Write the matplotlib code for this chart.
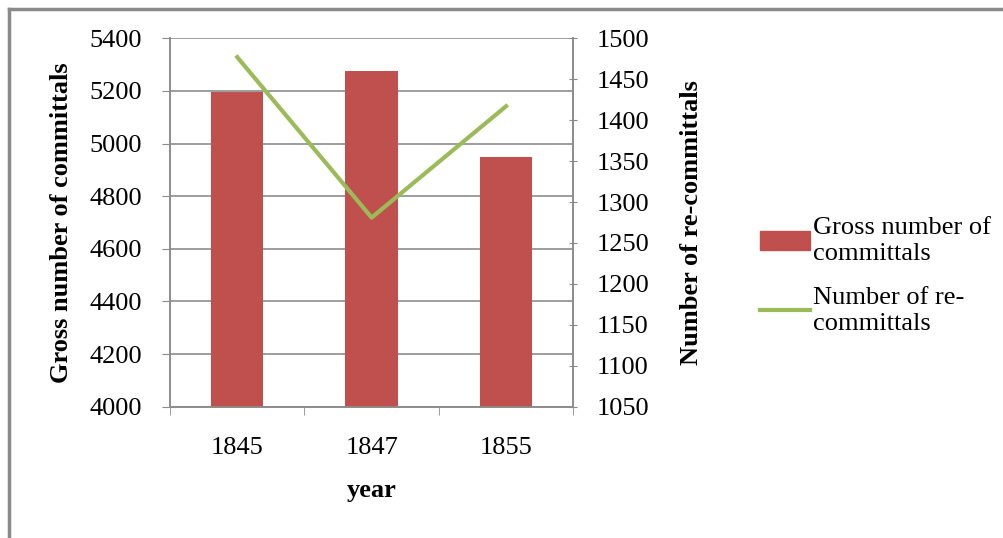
import numpy as np
import matplotlib.pyplot as plt
from matplotlib.lines import Line2D
from matplotlib.patches import Patch

years = ["1845", "1847", "1855"]
gross_committals = [5195, 5275, 4950]
re_committals = [1477, 1281, 1417]

bar_color = "#C0504D"
line_color = "#9BBB59"
grid_color = "#8C8C8C"

plt.rcParams["font.family"] = ["Liberation Serif", "DejaVu Serif"]

fig = plt.figure(figsize=(10.04, 5.38), dpi=100)
W, H = 1004, 538
ax = fig.add_axes([170 / W, 1 - 406.7 / H, (573.3 - 170) / W, (406.7 - 38.3) / H])
ax2 = ax.twinx()

x = np.arange(len(years))
ax.bar(x, gross_committals, width=0.39, color=bar_color, zorder=3)
ax.set_ylim(4000, 5400)
ax.set_yticks(np.arange(4000, 5401, 200))
ax.set_xlim(-0.5, 2.5)
ax.set_xticks(x)
ax.set_xticklabels(years)
ax.set_xticks([-0.5, 0.5, 1.5, 2.5], minor=True)
ax.tick_params(axis="x", which="major", length=0, pad=22, labelsize=19)
ax.tick_params(axis="x", which="minor", length=6, color=grid_color, direction="out")
ax.tick_params(axis="y", length=6, color=grid_color, labelsize=19, pad=14)
ax.yaxis.grid(True, color=grid_color, linewidth=1.2, zorder=0)
ax.set_axisbelow(True)

ax2.plot(x, re_committals, color=line_color, linewidth=3, zorder=4)
ax2.set_ylim(1050, 1500)
ax2.set_yticks(np.arange(1050, 1501, 50))
ax2.tick_params(axis="y", length=6, color=grid_color, labelsize=19, pad=14, direction="inout")

for a in (ax, ax2):
    a.spines["top"].set_visible(False)
    for s in ("left", "right", "bottom"):
        a.spines[s].set_color(grid_color)
        a.spines[s].set_linewidth(1.2)

ax.set_ylabel("Gross number of committals", fontsize=19, fontweight="bold", labelpad=12)
ax.set_xlabel("year", fontsize=19, fontweight="bold", labelpad=14)
ax2.set_ylabel("Number of re-committals", fontsize=19, fontweight="bold", labelpad=22)

handles = [Patch(color=bar_color), Line2D([0], [0], color=line_color, linewidth=3)]
labels = ["Gross number of\ncommittals", "Number of re-\ncommittals"]
fig.legend(handles, labels, loc="center left", bbox_to_anchor=(747 / W, 1 - 276 / H),
           frameon=False, fontsize=19, handlelength=1.9, handletextpad=0.1,
           labelspacing=0.85, borderpad=0)

# outer chart frame (top and left edges visible)
fig.add_artist(Line2D([9 / W, 9 / W], [0, 1 - 9 / H], color="#8A8A8A", linewidth=2.5))
fig.add_artist(Line2D([9 / W, 1], [1 - 9 / H, 1 - 9 / H], color="#8A8A8A", linewidth=2.5))

fig.savefig("out.png", dpi=100)
